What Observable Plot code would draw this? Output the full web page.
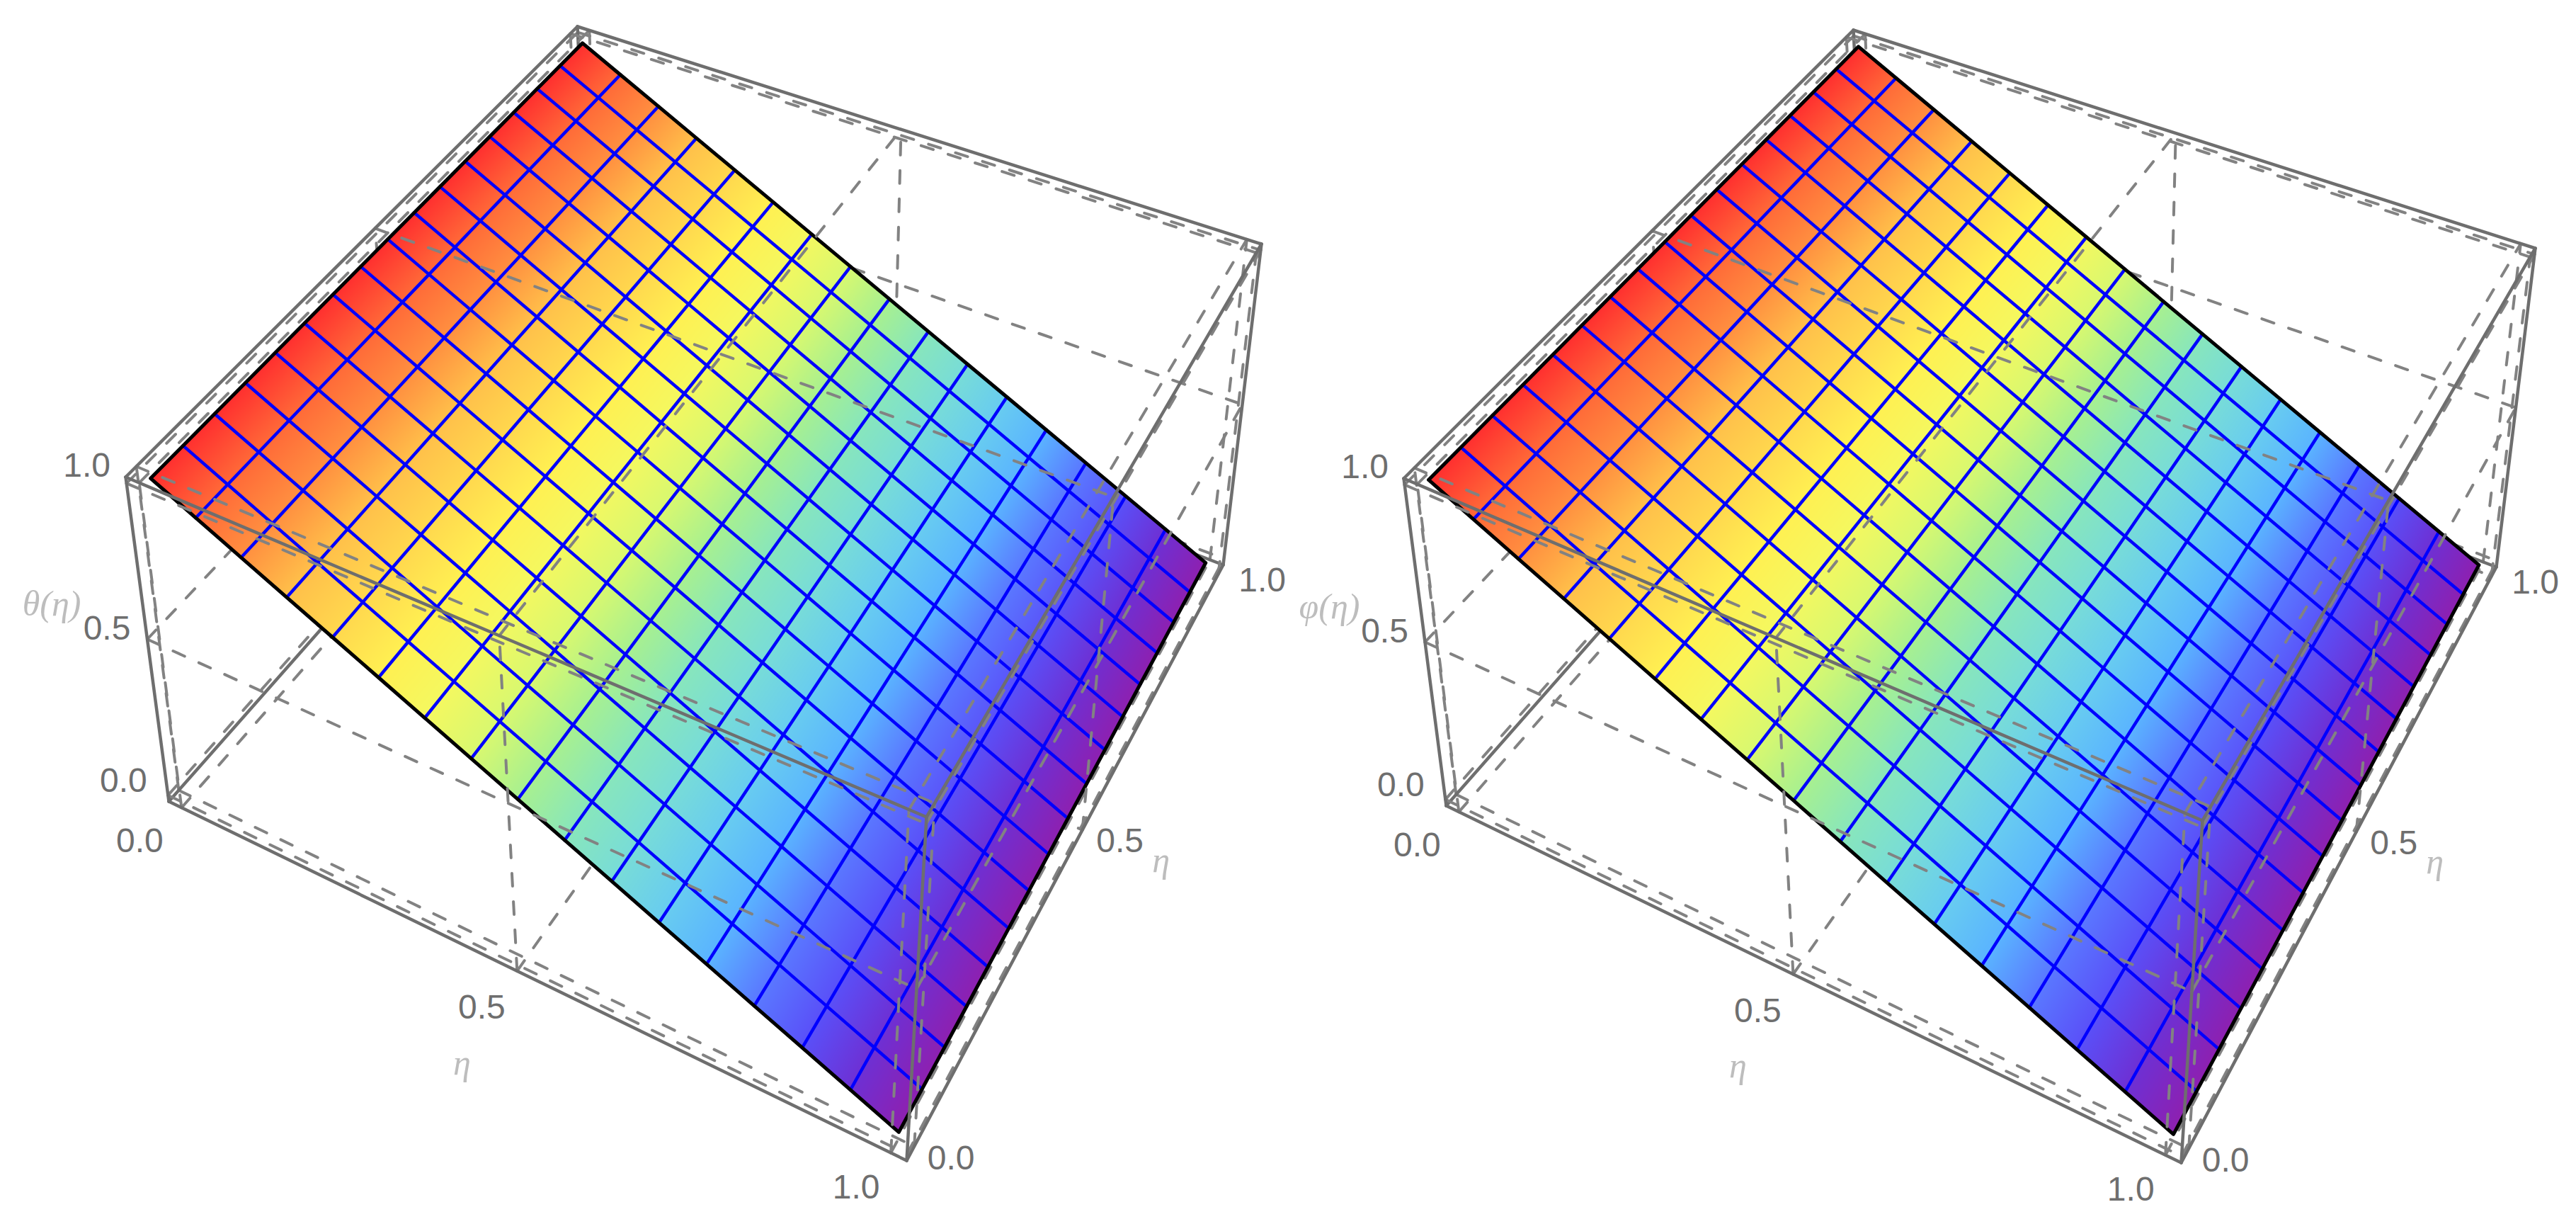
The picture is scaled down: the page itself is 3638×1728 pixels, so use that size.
<!DOCTYPE html>
<html>
<head>
<meta charset="utf-8">
<script src="https://cdn.jsdelivr.net/npm/d3@7"></script>
<script src="https://cdn.jsdelivr.net/npm/@observablehq/plot@0.6"></script>
<style>html,body{margin:0;padding:0;background:#fff}svg{display:block}</style>
</head>
<body>
<div id="chart"></div>
<script>
// ---- data ----
const etaGrid = [0, 0.0625, 0.125, 0.1875, 0.25, 0.3125, 0.375, 0.4375, 0.5, 0.5625, 0.625, 0.6875, 0.75, 0.8125, 0.875, 0.9375, 1];
const thetaValues = [1, 0.9375, 0.875, 0.8125, 0.75, 0.6875, 0.625, 0.5625, 0.5, 0.4375, 0.375, 0.3125, 0.25, 0.1875, 0.125, 0.0625, 0];
const phiValues = [1, 0.9375, 0.875, 0.8125, 0.75, 0.6875, 0.625, 0.5625, 0.5, 0.4375, 0.375, 0.3125, 0.25, 0.1875, 0.125, 0.0625, 0];
const tickValues = [0, 0.5, 1];
const tickLabels = ["0.0", "0.5", "1.0"];
const boxLimits = [-0.02, 1.02];
const colorValues = [0, 0.0625, 0.125, 0.1875, 0.25, 0.3125, 0.375, 0.4375, 0.5, 0.5625, 0.625, 0.6875, 0.75, 0.8125, 0.875, 0.9375, 1];
const colorStops = ["#8e20b0", "#6e30d4", "#5a50f8", "#5a78ff", "#5ab4ff", "#68ccf0", "#78dcd8", "#88e6bc", "#a8f090", "#d8f870", "#f4f860", "#fff052", "#ffd84e", "#ffc04a", "#ff9040", "#ff6a38", "#ff2f2f"];

// camera of each panel: projected box vertices [x=0,y=0], [x=1,y=0], [x=1,y=1], [x=0,y=1]
const leftBottom  = [[238, 1131], [1280, 1638], [1727, 797], [835, 455]];
const leftTop     = [[177, 673], [1308, 1153], [1781, 344], [815, 37]];
const rightBottom = [[2042, 1137], [3080, 1641], [3525, 800], [2638, 461]];
const rightTop    = [[1982, 675], [3110, 1158], [3580, 350], [2617, 42]];

const W = 3638, H = 1728;
const SOLID = "#6e6e6e", DASH = "#828282", TEXT = "#6e6e6e", TITLE = "#bdbdbd";

function homography(q) {
  const [[x0, y0], [x1, y1], [x2, y2], [x3, y3]] = q;
  const dx1 = x1 - x2, dx2 = x3 - x2, sx = x0 - x1 + x2 - x3;
  const dy1 = y1 - y2, dy2 = y3 - y2, sy = y0 - y1 + y2 - y3;
  const den = dx1 * dy2 - dx2 * dy1;
  const g = (sx * dy2 - dx2 * sy) / den, h = (dx1 * sy - sx * dy1) / den;
  return [x1 - x0 + g * x1, x3 - x0 + h * x3, x0, y1 - y0 + g * y1, y3 - y0 + h * y3, y0, g, h, 1];
}
const apply = (m, u, v) => {
  const w = m[6] * u + m[7] * v + m[8];
  return [(m[0] * u + m[1] * v + m[2]) / w, (m[3] * u + m[4] * v + m[5]) / w];
};
function invert(m) {
  const [a, b, c, d, e, f, g, h, i] = m;
  return [e * i - f * h, c * h - b * i, b * f - c * e, f * g - d * i, a * i - c * g, c * d - a * f, d * h - e * g, b * g - a * h, a * e - b * d];
}
const norm = d3.scaleLinear(boxLimits, [0, 1]);

function panel(bottom, top, values, title, off) {
  const Hb = homography(bottom), Ht = homography(top);
  const project = (x, y, z) => {
    const u = norm(x), v = norm(y), t = norm(z);
    const b = apply(Hb, u, v), p = apply(Ht, u, v);
    return [b[0] + (p[0] - b[0]) * t, b[1] + (p[1] - b[1]) * t];
  };
  const rowsFrom = (lines, fn = project) => lines.flatMap((pts, id) => pts.map(([x, y, z]) => {
    const [px, py] = fn(x, y, z);
    return {id, px, py};
  }));
  const [lo, hi] = boxLimits;
  const edge = (a, b) => [a, b];
  // box edges split into what lies behind and in front of the surface
  const backEdges = [
    edge([lo, lo, lo], [lo, hi, lo]), edge([lo, hi, lo], [hi, hi, lo]), edge([lo, hi, lo], [lo, hi, hi])
  ];
  const frontEdges = [
    edge([lo, lo, lo], [hi, lo, lo]), edge([hi, lo, lo], [hi, hi, lo]),
    edge([lo, lo, hi], [hi, lo, hi]), edge([hi, lo, hi], [hi, hi, hi]), edge([hi, hi, hi], [lo, hi, hi]), edge([lo, hi, hi], [lo, lo, hi]),
    edge([lo, lo, lo], [lo, lo, hi]), edge([hi, lo, lo], [hi, lo, hi]), edge([hi, hi, lo], [hi, hi, hi])
  ];
  // face grids at the tick values on all six faces
  const gridOn = (axis, at) => {
    const [a, b] = [0, 1, 2].filter((k) => k !== axis);
    const out = [];
    for (const t of tickValues) {
      const p = [0, 0, 0], q = [0, 0, 0];
      p[axis] = q[axis] = at; p[a] = q[a] = t; p[b] = lo; q[b] = hi; out.push([p, q]);
      const r = [0, 0, 0], s = [0, 0, 0];
      r[axis] = s[axis] = at; r[b] = s[b] = t; r[a] = lo; s[a] = hi; out.push([r, s]);
    }
    return out;
  };
  const backGrid = [...gridOn(0, lo), ...gridOn(1, hi), ...gridOn(2, lo)];
  const frontGrid = [...gridOn(0, hi), ...gridOn(1, lo), ...gridOn(2, hi)];

  // surface: a plane through its four corners
  const n = etaGrid.length - 1;
  const corners = [project(0, 0, values[0]), project(1, 0, values[n]), project(1, 1, values[n]), project(0, 1, values[0])];
  const Hs = homography(corners);
  const onSurface = (x, y) => apply(Hs, x, y);
  const mesh = [];
  for (let k = 1; k < n; ++k) {
    mesh.push(etaGrid.map((y) => [etaGrid[k], y, values[k]]));
    mesh.push(etaGrid.map((x, i) => [x, etaGrid[k], values[i]]));
  }
  const border = [[
    ...etaGrid.map((y) => [0, y, values[0]]),
    ...etaGrid.map((x, i) => [x, 1, values[i]]),
    ...etaGrid.map((y) => [1, 1 - y, values[n]]),
    ...etaGrid.map((x, i) => [1 - x, 0, values[n - i]])
  ]];
  const inv = invert(Hs);
  const x1 = Math.floor(d3.min(corners, (c) => c[0])) - 2, x2 = Math.ceil(d3.max(corners, (c) => c[0])) + 2;
  const y1 = Math.floor(d3.min(corners, (c) => c[1])) - 2, y2 = Math.ceil(d3.max(corners, (c) => c[1])) + 2;
  const w = x2 - x1, h = y2 - y1;
  const raster = new Float64Array(w * h);
  const valueAt = d3.scaleLinear(etaGrid, values);
  for (let j = 0; j < h; ++j) for (let i = 0; i < w; ++i) {
    const [u, v] = apply(inv, x1 + i + 0.5, y1 + j + 0.5);
    raster[j * w + i] = (u >= 0 && u <= 1 && v >= 0 && v <= 1) ? valueAt(u) : NaN;
  }

  const text = (row, opts) => Plot.text([row], {x: "px", y: "py", text: "t", ...opts});
  const at = (x, y, z, t) => { const [px, py] = project(x, y, z); return {px, py, t}; };
  const label = {fontFamily: "Liberation Sans", fontSize: 48, fill: TEXT};
  const name = {fontFamily: "Liberation Serif", fontStyle: "italic", fontSize: 50, fill: TITLE};
  const [oz, ox, oy] = [off.z, off.x, off.y];
  const labels = tickValues.flatMap((t, i) => [
    text(at(lo, lo, t, tickLabels[i]), {...label, dx: oz[i][0], dy: oz[i][1]}),
    text(at(t, lo, lo, tickLabels[i]), {...label, dx: ox[i][0], dy: ox[i][1]}),
    text(at(hi, t, lo, tickLabels[i]), {...label, dx: oy[i][0], dy: oy[i][1]})
  ]);
  const line = (rows, s, sw, dash) => Plot.line(rows, {x: "px", y: "py", z: "id", stroke: s, strokeWidth: sw, strokeDasharray: dash});
  return [
    line(rowsFrom(backGrid), DASH, 4, "18,22"),
    line(rowsFrom(backEdges), SOLID, 4.5),
    Plot.raster(raster, {x1, y1, x2, y2, width: w, height: h}),
    line(rowsFrom(mesh, onSurface), "#0000ff", 4.5),
    line(rowsFrom(border, onSurface), "#000000", 5),
    line(rowsFrom(frontGrid), DASH, 4, "18,22"),
    line(rowsFrom(frontEdges), SOLID, 4.5),
    ...labels,
    text(at(0.5, lo, lo, "η"), {...name, dx: off.tx[0], dy: off.tx[1]}),
    text(at(hi, 0.5, lo, "η"), {...name, dx: off.ty[0], dy: off.ty[1]}),
    text(at(lo, lo, 0.5, title), {...name, dx: off.tz[0], dy: off.tz[1]})
  ];
}

const offsets = {
  z: [[-63, -20], [-57, -15], [-56, -25]],
  x: [[-59, 47], [-50, 52], [-49, 49]],
  y: [[52, 17], [53, 16], [62, 9]],
  tx: [-78, 130], ty: [111, 43], tz: [-135, -50]
};

const chart = Plot.plot({
  width: W, height: H,
  margin: 0,
  x: {domain: [0, W], range: [0, W], axis: null},
  y: {domain: [0, H], range: [0, H], axis: null},
  color: {type: "linear", domain: colorValues, range: colorStops, interpolate: d3.interpolateRgb, legend: false},
  style: {background: "#fff", overflow: "visible"},
  marks: [
    ...panel(leftBottom, leftTop, thetaValues, "θ(η)", offsets),
    ...panel(rightBottom, rightTop, phiValues, "φ(η)", offsets)
  ]
});
document.getElementById("chart").append(chart);
</script>
</body>
</html>
